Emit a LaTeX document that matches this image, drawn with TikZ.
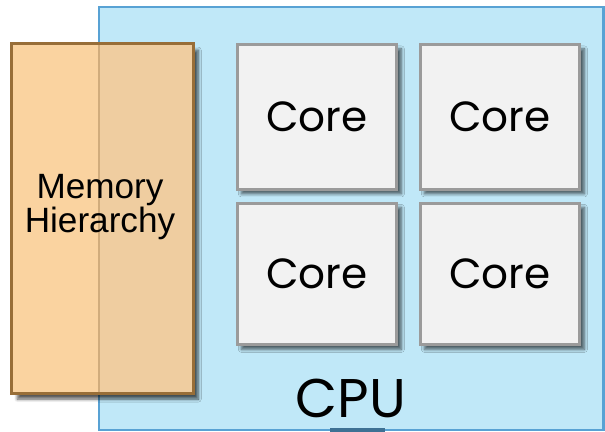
\documentclass[tikz,border=0pt]{standalone}
\usepackage{fontspec}
\usepackage{tikz}
\usetikzlibrary{shadows.blur}
\newfontfamily\geofont{Poppins}
\newfontfamily\arialfont{Liberation Sans}
\definecolor{cpu-fill}{RGB}{192,232,248}
\definecolor{cpu-line}{RGB}{88,162,212}
\definecolor{mem-fill}{RGB}{250,211,160}
\definecolor{mem-over}{RGB}{239,205,160}
\definecolor{mem-line}{RGB}{152,110,56}
\definecolor{core-fill}{RGB}{242,242,242}
\definecolor{core-line}{RGB}{155,155,155}

\begin{document}
\begin{tikzpicture}[x=0.02cm, y=-0.02cm,
    corebox/.style={draw=core-line, fill=core-fill, line width=1.7pt,
      minimum width=3.2cm, minimum height=2.9cm, inner sep=0pt,
      font=\geofont\fontsize{24}{28}\selectfont,
      blur shadow={shadow xshift=2.5pt, shadow yshift=-2.5pt,
        shadow blur steps=6, shadow opacity=60}},
    membox/.style={fill=mem-fill,
      minimum width=3.62cm, minimum height=6.98cm, inner sep=0pt,
      blur shadow={shadow xshift=3pt, shadow yshift=-3.5pt,
        shadow blur steps=6, shadow opacity=65}}]
  \useasboundingbox (0,0) rectangle (605,432);

  % CPU package
  \draw[cpu-line, fill=cpu-fill, line width=1.7pt] (99,7) rectangle (603,430);
  \draw[cpu-line!70!black, line width=2pt] (330,430) -- (385,430);
  \node[font=\geofont\fontsize{31}{34}\selectfont, inner sep=0pt]
    (cpu) at (351,398) {CPU};

  % Cores
  \node[corebox] (core1) at (317,117) {Core};
  \node[corebox] (core2) at (500,117) {Core};
  \node[corebox, minimum height=2.84cm] (core3) at (317,274) {Core};
  \node[corebox, minimum height=2.84cm] (core4) at (500,274) {Core};

  % Memory hierarchy laid over the CPU edge
  \node[membox] (mem) at (102.5,218.5) {};
  \fill[mem-over] (99,44) rectangle (mem.south east);
  \draw[mem-line!35!mem-over, line width=1.7pt] (99,44) -- (99,393);
  \draw[mem-line, line width=1.7pt] (mem.north west) rectangle (mem.south east);
  \node[font=\arialfont\fontsize{20}{16}\selectfont, align=center]
    (memlabel) at (100,207) {Memory\\Hierarchy};
\end{tikzpicture}
\end{document}
